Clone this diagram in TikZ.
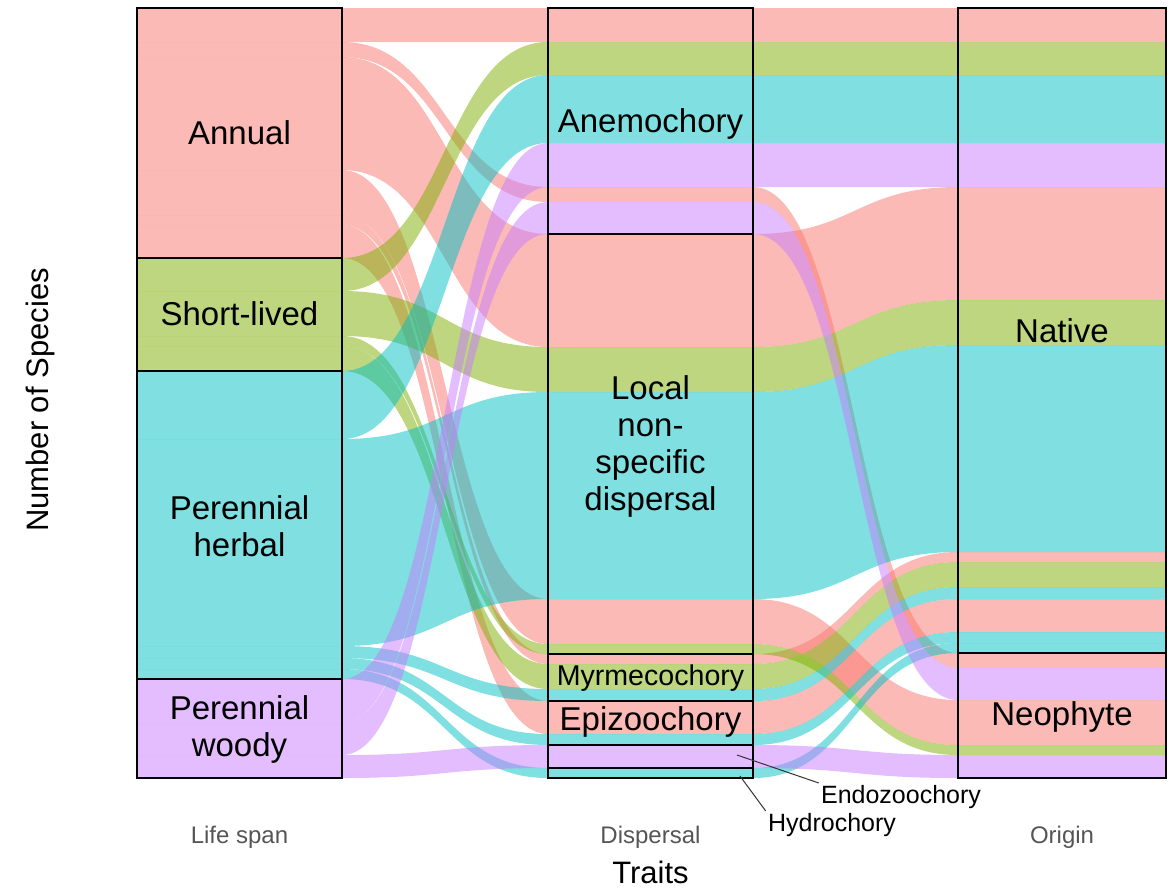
\documentclass[tikz,border=0pt]{standalone}
\usepackage{fontspec}
\setmainfont{Liberation Sans}
\usepackage{xcolor}
\usetikzlibrary{positioning}

\definecolor{pnk}{HTML}{F8766D}
\definecolor{grn}{HTML}{7CAE00}
\definecolor{cyn}{HTML}{00BFC4}
\definecolor{prp}{HTML}{C77CFF}
\definecolor{axisgrey}{HTML}{555555}

\begin{document}
\begin{tikzpicture}[x=0.5pt,y=-0.5pt,
  stratum/.style={draw=black,line width=0.7pt},
  lbl/.style={font=\fontsize{16.5}{18.5}\selectfont,align=center,inner sep=1pt},
  smalllbl/.style={font=\fontsize{14.3}{16}\selectfont,inner sep=1pt},
  tiny/.style={font=\fontsize{12.5}{14}\selectfont,inner sep=1pt},
  axislbl/.style={font=\fontsize{12}{14}\selectfont,text=axisgrey},
  title/.style={font=\fontsize{15.5}{18}\selectfont,inner sep=1pt}]
\useasboundingbox (0,0) rectangle (1171,890);

% Flows: colour / life span / dispersal / origin / width
\foreach \col/\ya/\yb/\yc/\wd in {
  pnk/8/8/8/34, pnk/42/187/653/15, pnk/57/234/187/113, pnk/170/599/700/45,
  pnk/215/654/552/10, pnk/225/701/599/33,
  grn/258/42/42/33, grn/291/347/300/45, grn/336/644/745/10, grn/346/664/562/25,
  cyn/371/75/75/68, cyn/439/392/345/207, cyn/646/689/587/12, cyn/658/734/632/11,
  cyn/669/768/643/10,
  prp/679/143/143/44, prp/723/202/668/32, prp/755/745/755/23} {
  \fill[\col,fill opacity=0.5]
    (137,\ya) -- (342,\ya) .. controls (445,\ya) and (445,\yb) .. (548,\yb)
    -- (753,\yb) .. controls (855,\yb) and (855,\yc) .. (958,\yc) -- (1166,\yc)
    -- (1166,\yc+\wd) -- (958,\yc+\wd)
    .. controls (855,\yc+\wd) and (855,\yb+\wd) .. (753,\yb+\wd) -- (548,\yb+\wd)
    .. controls (445,\yb+\wd) and (445,\ya+\wd) .. (342,\ya+\wd) -- (137,\ya+\wd) -- cycle;
}

% Strata
\foreach \ya/\yb in {8/258, 258/371, 371/679, 679/778}
  \draw[stratum] (137,\ya) rectangle (342,\yb);
\foreach \ya/\yb in {8/234, 234/654, 654/701, 701/745, 745/768, 768/778}
  \draw[stratum] (548,\ya) rectangle (753,\yb);
\foreach \ya/\yb in {8/653, 653/778}
  \draw[stratum] (958,\ya) rectangle (1166,\yb);

\node[lbl] (annual) at (239.5,133) {Annual};
\node[lbl] (short) at (239.5,314) {Short-lived};
\node[lbl] (herbal) at (239.5,526) {Perennial\\herbal};
\node[lbl] (woody) at (239.5,729) {Perennial\\woody};

\node[lbl] (anemo) at (650.5,124) {Anemochory};
\node[lbl] (local) at (650.5,446) {Local\\non-\\specific\\dispersal};
\node[smalllbl] (myrme) at (650.5,678) {Myrmecochory};
\node[lbl] (epizoo) at (650.5,722) {Epizoochory};

\node[lbl] (native) at (1062,331) {Native};
\node[lbl] (neo) at (1062,717) {Neophyte};

% Repelled labels
\coordinate (endopt) at (737,755);
\coordinate (hydropt) at (740,776);
\node[tiny] (endo) at (901,797) {Endozoochory};
\node[tiny] (hydro) at (832,825) {Hydrochory};
\draw[black!80,line width=0.5pt] (endopt) -- (endo.north west);
\draw[black!80,line width=0.5pt] (hydropt) -- (hydro.north west);

% Axes
\node[axislbl] (lifespan) at (239.5,837) {Life span};
\node[axislbl] (dispersal) at (650.5,837) {Dispersal};
\node[axislbl] (origin) at (1062,837) {Origin};
\node[title] (traits) at (650.5,872) {Traits};
\node[title,rotate=90] (species) at (40,400) {Number of Species};
\end{tikzpicture}
\end{document}
